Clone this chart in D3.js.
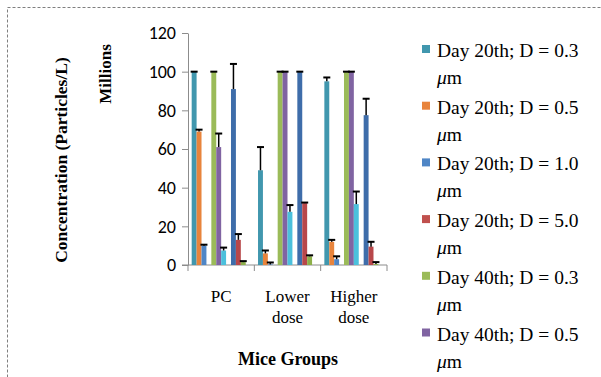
<!DOCTYPE html>
<html>
<head>
<meta charset="utf-8">
<script src="https://cdn.jsdelivr.net/npm/d3@7"></script>
<style>
  body { margin: 0; background: #fff; }
  svg { display: block; }
</style>
</head>
<body>
<div id="chart"></div>
<script>
// groups on the x axis
const groups = ["PC", "Lower dose", "Higher dose"];
const groupLines = [["PC"], ["Lower", "dose"], ["Higher", "dose"]];

// series (only the first six fit in the visible legend)
const seriesNames = [
  "Day 20th; D = 0.3", "Day 20th; D = 0.5", "Day 20th; D = 1.0", "Day 20th; D = 5.0",
  "Day 40th; D = 0.3", "Day 40th; D = 0.5", "Day 40th; D = 1.0", "Day 40th; D = 5.0",
  "Day 60th; D = 0.3", "Day 60th; D = 0.5", "Day 60th; D = 1.0", "Day 60th; D = 5.0"
];
const seriesColors = [
  "#4197ae", "#e8843c", "#4f86c6", "#c0504d",
  "#9bbb59", "#8064a2", "#4bc0dc", "#f5a05a",
  "#3e6daa", "#b8474a", "#8db04a", "#777777"
];
const legendCount = 6;

// means (millions) per group, one value per series
const pcMeans     = [100, 69, 10, 0, 100, 61, 7.5, 0, 91, 13, 1.5, 0];
const lowerMeans  = [49, 6, 0.3, 0, 100, 100, 27.5, 0, 100, 32, 4.5, 0];
const higherMeans = [95, 12, 3, 0, 100, 100, 31.5, 0, 77.5, 9.5, 0.5, 0];

// upper error bar lengths
const pcErr     = [0, 1, 0.5, 0, 0, 7, 1.5, 0, 13, 3, 0.5, 0];
const lowerErr  = [12, 1.5, 1, 0, 0, 0, 3.5, 0, 0, 0.3, 0.5, 0];
const higherErr = [2, 1, 1.5, 0, 0, 0, 6.5, 0, 8.5, 2.5, 1, 0];

const yTicks = [0, 20, 40, 60, 80, 100, 120];

const meansByGroup = [pcMeans, lowerMeans, higherMeans];
const errByGroup = [pcErr, lowerErr, higherErr];

const width = 601, height = 377;
const plot = { left: 188, right: 387, top: 33, bottom: 265 };
const serif = "'Liberation Serif', 'Times New Roman', serif";

const svg = d3.select("#chart").append("svg")
  .attr("width", width)
  .attr("height", height);

// dashed outer frame (runs off the right and bottom edges)
svg.append("rect")
  .attr("x", 7.5).attr("y", 7.5)
  .attr("width", 700).attr("height", 500)
  .attr("fill", "none")
  .attr("stroke", "#7f7f7f")
  .attr("stroke-width", 1)
  .attr("stroke-dasharray", "3,2");

const x0 = d3.scaleBand().domain(groups).range([plot.left, plot.right]).padding(0);
const groupW = x0.bandwidth();
const barW = groupW / (seriesNames.length + 1.5);
const x1 = d3.scaleBand()
  .domain(d3.range(seriesNames.length))
  .range([barW * 0.75, groupW - barW * 0.75])
  .padding(0);

const y = d3.scaleLinear().domain([0, 120]).range([plot.bottom, plot.top]);

// y axis
const yAxis = svg.append("g")
  .attr("transform", `translate(${plot.left},0)`)
  .call(d3.axisLeft(y).tickValues(yTicks).tickSize(6).tickPadding(6).tickSizeOuter(0));
yAxis.select(".domain").attr("stroke", "#8c8c8c");
yAxis.selectAll(".tick line").attr("stroke", "#8c8c8c");
yAxis.selectAll(".tick text")
  .attr("fill", "#000")
  .style("font-family", "Carlito, Lato, 'Open Sans', sans-serif")
  .style("font-size", "18px");

// x axis baseline with category boundary ticks
svg.append("line")
  .attr("x1", plot.left - 6).attr("x2", plot.right)
  .attr("y1", plot.bottom).attr("y2", plot.bottom)
  .attr("stroke", "#8c8c8c");
const bounds = groups.map(g => x0(g)).concat([plot.right]);
svg.selectAll("line.xtick")
  .data(bounds)
  .join("line")
  .attr("class", "xtick")
  .attr("x1", d => d).attr("x2", d => d)
  .attr("y1", plot.bottom).attr("y2", plot.bottom + 6)
  .attr("stroke", "#8c8c8c");

// category labels
const catLabels = svg.selectAll("text.cat")
  .data(groups)
  .join("text")
  .attr("class", "cat")
  .attr("x", d => x0(d) + groupW / 2)
  .attr("y", 302)
  .attr("text-anchor", "middle")
  .style("font-family", serif)
  .style("font-size", "17px");
catLabels.each(function (d, i) {
  const t = d3.select(this);
  groupLines[i].forEach((ln, k) => {
    t.append("tspan")
      .attr("x", x0(d) + groupW / 2)
      .attr("dy", k === 0 ? 0 : 21)
      .text(ln);
  });
});

// bars
const barData = [];
groups.forEach((g, gi) => {
  seriesNames.forEach((s, si) => {
    barData.push({ g, si, v: meansByGroup[gi][si], e: errByGroup[gi][si] });
  });
});

svg.append("g").selectAll("rect")
  .data(barData.filter(d => d.v > 0))
  .join("rect")
  .attr("x", d => x0(d.g) + x1(d.si))
  .attr("y", d => y(d.v))
  .attr("width", x1.bandwidth())
  .attr("height", d => y(0) - y(d.v))
  .attr("fill", d => seriesColors[d.si]);

// error bars (upper only)
const eb = svg.append("g").selectAll("g")
  .data(barData.filter(d => d.v > 0))
  .join("g");
eb.append("line")
  .attr("x1", d => x0(d.g) + x1(d.si) + x1.bandwidth() / 2)
  .attr("x2", d => x0(d.g) + x1(d.si) + x1.bandwidth() / 2)
  .attr("y1", d => y(d.v))
  .attr("y2", d => y(d.v + d.e))
  .attr("stroke", "#000")
  .attr("stroke-width", 1.5);
eb.append("line")
  .attr("x1", d => x0(d.g) + x1(d.si) + x1.bandwidth() / 2 - 3.5)
  .attr("x2", d => x0(d.g) + x1(d.si) + x1.bandwidth() / 2 + 3.5)
  .attr("y1", d => y(d.v + d.e))
  .attr("y2", d => y(d.v + d.e))
  .attr("stroke", "#000")
  .attr("stroke-width", 2);

// axis titles
svg.append("text")
  .attr("transform", "translate(67,160) rotate(-90)")
  .attr("text-anchor", "middle")
  .style("font-family", serif)
  .style("font-weight", "bold")
  .style("font-size", "17.5px")
  .text("Concentration (Particles/L)");

svg.append("text")
  .attr("transform", "translate(111,74) rotate(-90)")
  .attr("text-anchor", "middle")
  .style("font-family", serif)
  .style("font-weight", "bold")
  .style("font-size", "17px")
  .text("Millions");

svg.append("text")
  .attr("x", 288)
  .attr("y", 365)
  .attr("text-anchor", "middle")
  .style("font-family", serif)
  .style("font-weight", "bold")
  .style("font-size", "18px")
  .text("Mice Groups");

// legend (the rest of it is cut off by the chart frame)
const legend = svg.append("g").selectAll("g")
  .data(seriesNames.slice(0, legendCount))
  .join("g")
  .attr("transform", (d, i) => `translate(422,${57 + i * 56.7})`);
legend.append("rect")
  .attr("x", 0).attr("y", -12)
  .attr("width", 8).attr("height", 8)
  .attr("fill", (d, i) => seriesColors[i]);
const lt = legend.append("text")
  .attr("x", 15)
  .style("font-family", serif)
  .style("font-size", "19.5px");
lt.append("tspan").attr("x", 15).attr("dy", 0).text(d => d);
const l2 = lt.append("tspan").attr("x", 15).attr("dy", 27);
l2.append("tspan").style("font-style", "italic").text("\u03bc");
l2.append("tspan").text("m");
</script>
</body>
</html>
